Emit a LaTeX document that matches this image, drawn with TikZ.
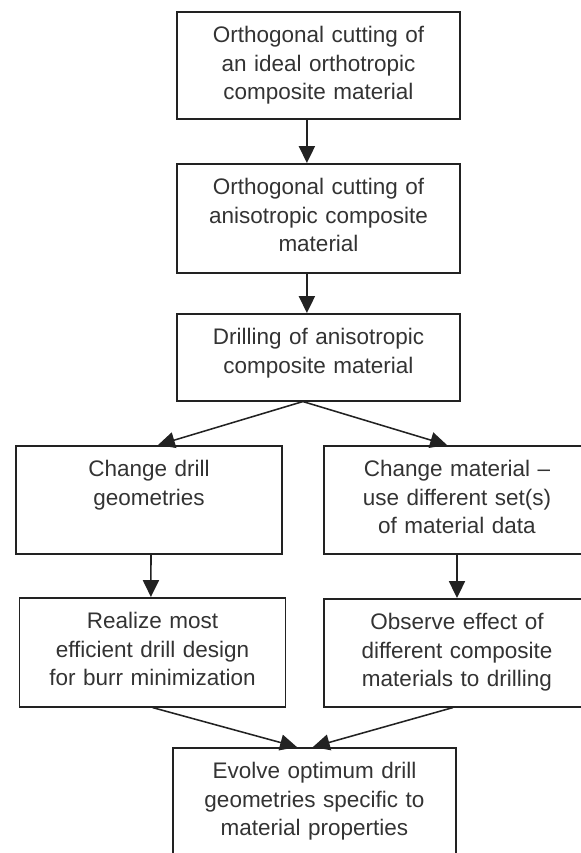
\documentclass[tikz,border=0pt]{standalone}
\usepackage{fontspec}
\setmainfont{Liberation Sans}
\usetikzlibrary{arrows.meta}
\definecolor{ink}{HTML}{222222}
\definecolor{txt}{HTML}{333333}

\begin{document}
\begin{tikzpicture}[
  stage/.style={draw=ink,line width=1.1pt,anchor=north,align=center,inner sep=0pt,
    text height=0.775cm,text=txt,font=\fontsize{16}{20.3}\selectfont},
  wide/.style={stage,text width=7.075cm},
  half/.style={stage,text width=6.65cm},
  flow/.style={-{Triangle[length=4.2mm,width=4mm]},line width=1.1pt,ink}]
  \useasboundingbox (0,0) rectangle (14.525,-21.325);
  \node[wide,text depth=1.9cm]  (a) at (7.9625,-0.275) {Orthogonal cutting of\\an ideal orthotropic\\composite material};
  \node[wide,text depth=1.95cm] (b) at (7.9625,-4.075) {Orthogonal cutting of\\anisotropic composite\\material};
  \node[wide,text depth=1.4cm]  (c) at (7.9625,-7.825) {Drilling of anisotropic\\composite material};
  \node[half,text depth=1.925cm] (d) at (3.725,-11.125) {Change drill\\geometries};
  \node[half,text depth=1.925cm] (e) at (11.425,-11.125) {Change material --\\use different set(s)\\of material data};
  \node[half,text depth=1.95cm] (f) at (3.8125,-14.925) {Realize most\\efficient drill design\\for burr minimization};
  \node[half,text depth=1.925cm] (g) at (11.425,-14.95) {Observe effect of\\different composite\\materials to drilling};
  \node[wide,text depth=2.025cm] (h) at (7.8625,-18.675) {Evolve optimum drill\\geometries specific to\\material properties};
  \draw[flow] ([xshift=-0.29cm]a.south) -- ([xshift=-0.29cm]b.north);
  \draw[flow] ([xshift=-0.29cm]b.south) -- ([xshift=-0.29cm]c.north);
  \draw[flow] ([xshift=-0.39cm]c.south) -- ([xshift=0.225cm]d.north);
  \draw[flow] ([xshift=-0.39cm]c.south) -- ([xshift=-0.25cm]e.north);
  \draw[flow] ([xshift=0.05cm]d.south) -- ([xshift=-0.04cm]f.north);
  \draw[flow] (e.south) -- (g.north);
  \draw[flow] (f.south) -- ([xshift=-0.44cm]h.north);
  \draw[flow] ([xshift=-0.1cm]g.south) -- ([xshift=-0.04cm]h.north);
\end{tikzpicture}
\end{document}
